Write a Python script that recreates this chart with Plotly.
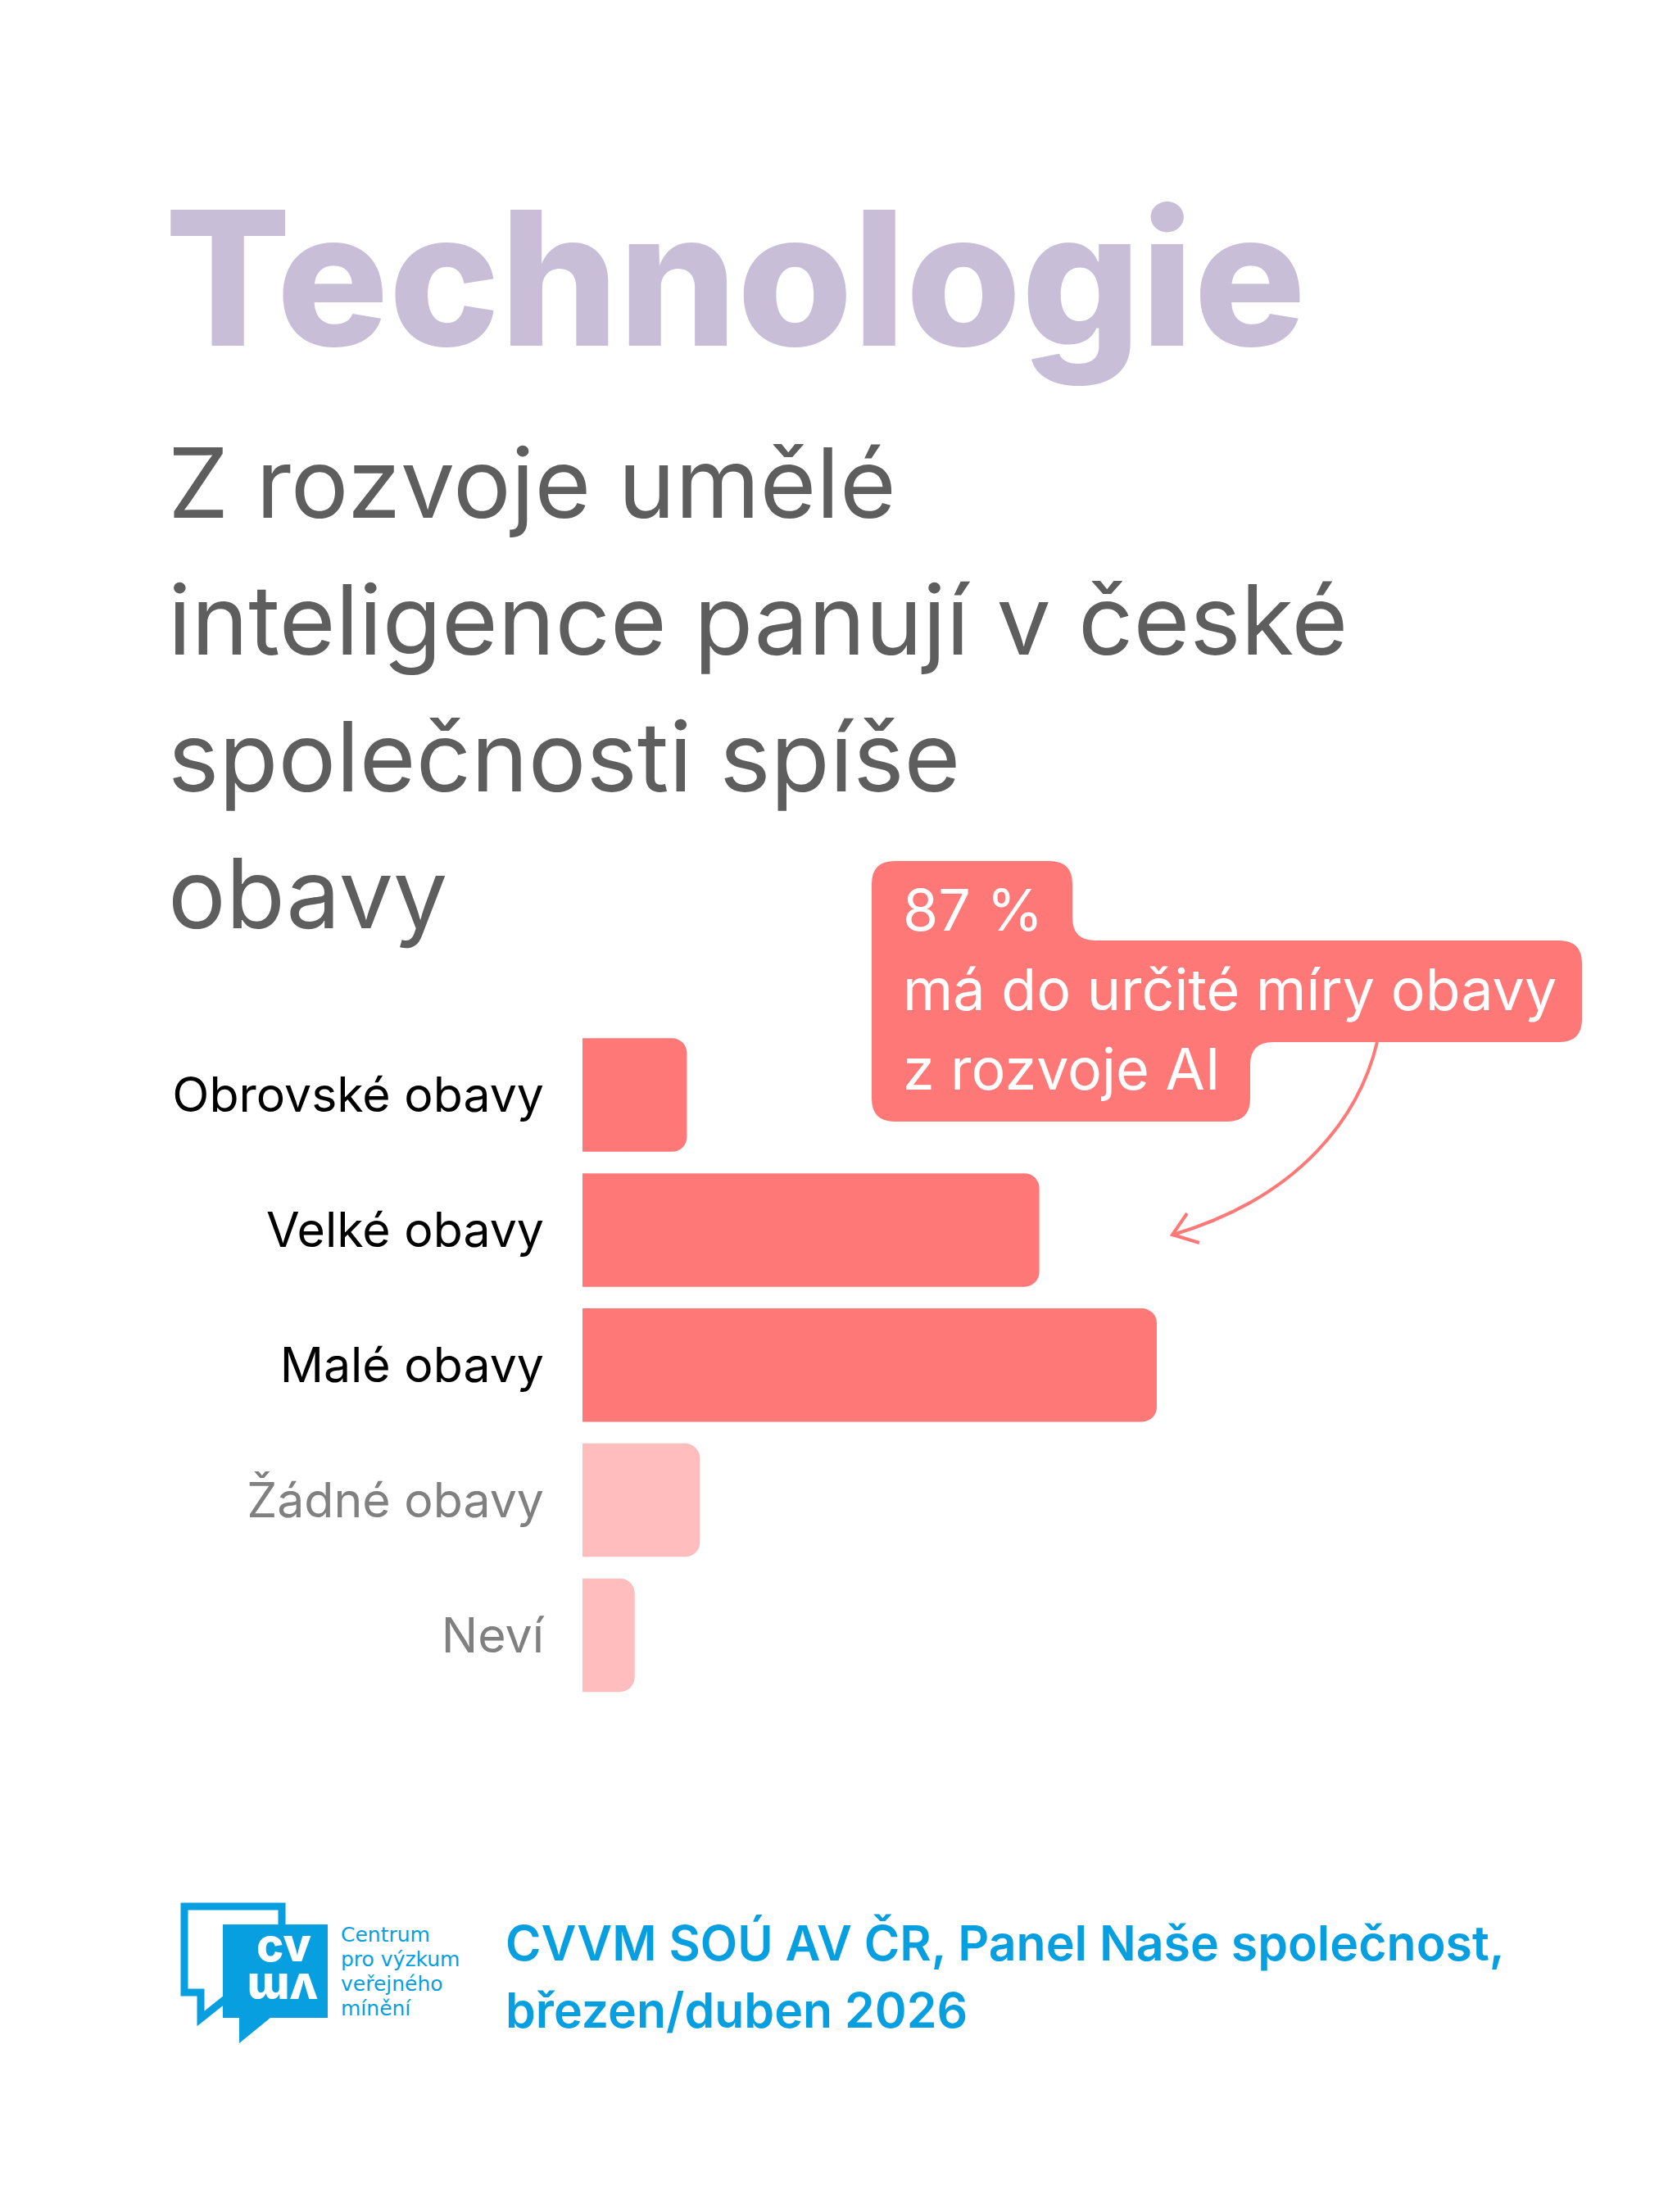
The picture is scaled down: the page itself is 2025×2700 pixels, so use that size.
import plotly.graph_objects as go

# ---------------- data ----------------
categories = ["Obrovské obavy", "Velké obavy", "Malé obavy", "Žádné obavy", "Neví"]
values = [8, 35, 44, 9, 4]
bar_colors = ["#FF7878", "#FF7878", "#FF7878", "#FFBDBD", "#FFBDBD"]
label_colors = ["#000000", "#000000", "#000000", "#808080", "#808080"]

title_text = "Technologie"
subtitle_lines = ["Z rozvoje umělé", "inteligence panují v české", "společnosti spíše", "obavy"]
callout_lines = ["87 %", "má do určité míry obavy", "z rozvoje AI"]
source_lines = ["CVVM SOÚ AV ČR, Panel Naše společnost,", "březen/duben 2026"]
logo_lines = ["Centrum", "pro výzkum", "veřejného", "mínění"]

W, H = 2025, 2700
OFF = 8  # page body margin offset
FONT = "Inter"
BLUE = "#079FE0"
RED = "#FF7878"


def px(x):
    return (x - OFF) / W


def py(y):
    return 1 - (y - OFF) / H


def P(x, y):
    return f"{px(x):.5f},{py(y):.5f}"


fig = go.Figure()

ticktext = [f'<span style="color:{c}">{t}</span>' for t, c in zip(categories, label_colors)]

fig.add_trace(go.Bar(
    y=categories,
    x=values,
    orientation="h",
    marker=dict(color=bar_colors, line=dict(width=0)),
    hoverinfo="skip",
))

annotations = []


def add_text(text, x, baseline, size, color, weight=400, anchor="left", family=FONT, desc=0.2415):
    annotations.append(dict(
        text=text, xref="paper", yref="paper",
        x=px(x), y=py(baseline + desc * size),
        xanchor=anchor, yanchor="bottom", showarrow=False,
        borderpad=0,
        font=dict(family=family, size=size, color=color, weight=weight),
    ))


# Title
add_text(title_text, 200, 423, 228, "#C9BED8", weight=800)
# Subtitle
for i, line in enumerate(subtitle_lines):
    add_text(line, 204, 633 + i * 167, 118, "#5E5E5E")
# Callout texts
for i, line in enumerate(callout_lines):
    add_text(line, 1101, 1137 + i * 97, 70, "#FFFFFF")
# Source
for i, line in enumerate(source_lines):
    add_text(line, 616, 2394 + i * 82, 59, BLUE, weight=600)
# logo small text
for i, line in enumerate(logo_lines):
    add_text(line, 415, 2371 + i * 30, 25, BLUE, family="DejaVu Sans", desc=0.236)

# logo letters
LS = 56
annotations.append(dict(text="cv", xref="paper", yref="paper", x=px(346), y=py(2395 + 0.2415 * LS),
                        xanchor="center", yanchor="bottom", showarrow=False, borderpad=0,
                        font=dict(family=FONT, size=LS, color="#FFFFFF", weight=800)))
annotations.append(dict(text="vm", xref="paper", yref="paper", x=px(345), y=py(2429),
                        xanchor="center", yanchor="middle", showarrow=False, borderpad=0,
                        textangle=180,
                        font=dict(family=FONT, size=LS, color="#FFFFFF", weight=800)))

# ---- callout box shape ----
L, T1, R1, T2, R2, B2, R3, B3, r = 1064, 1051, 1309, 1148, 1931, 1272, 1526, 1369, 28
path = (
    f"M{P(L, T1 + r)} Q{P(L, T1)} {P(L + r, T1)} "
    f"L{P(R1 - r, T1)} Q{P(R1, T1)} {P(R1, T1 + r)} "
    f"L{P(R1, T2 - r)} Q{P(R1, T2)} {P(R1 + r, T2)} "
    f"L{P(R2 - r, T2)} Q{P(R2, T2)} {P(R2, T2 + r)} "
    f"L{P(R2, B2 - r)} Q{P(R2, B2)} {P(R2 - r, B2)} "
    f"L{P(R3 + r, B2)} Q{P(R3, B2)} {P(R3, B2 + r)} "
    f"L{P(R3, B3 - r)} Q{P(R3, B3)} {P(R3 - r, B3)} "
    f"L{P(L + r, B3)} Q{P(L, B3)} {P(L, B3 - r)} Z"
)
shapes = [
    dict(type="path", xref="paper", yref="paper", path=path,
         fillcolor=RED, line=dict(width=0), layer="below"),
    # arrow curve
    dict(type="path", xref="paper", yref="paper",
         path=f"M{P(1681, 1272)} C{P(1660, 1360)} {P(1590, 1460)} {P(1432, 1507)}",
         line=dict(color=RED, width=4), fillcolor="rgba(0,0,0,0)"),
    # arrow head
    dict(type="path", xref="paper", yref="paper",
         path=f"M{P(1449, 1481)} L{P(1431, 1507)} L{P(1464, 1517)}",
         line=dict(color=RED, width=4), fillcolor="rgba(0,0,0,0)"),
    # logo outline bubble
    dict(type="path", xref="paper", yref="paper",
         path=(f"M{P(280, 2436)} L{P(245, 2464)} L{P(245, 2432)} L{P(225, 2432)} "
               f"L{P(225, 2327)} L{P(344, 2327)} L{P(344, 2355)}"),
         line=dict(color=BLUE, width=9), fillcolor="rgba(0,0,0,0)"),
    # logo filled bubble
    dict(type="path", xref="paper", yref="paper",
         path=(f"M{P(272, 2349)} L{P(400, 2349)} L{P(400, 2463)} L{P(330, 2463)} "
               f"L{P(292, 2494)} L{P(292, 2463)} L{P(272, 2463)} Z"),
         line=dict(width=0), fillcolor=BLUE),
]

px_per_unit = 1386 / 87
x_max = 80
bar_left = 711
fig.update_layout(
    width=W, height=H,
    margin=dict(l=0, r=0, t=0, b=0),
    paper_bgcolor="#FFFFFF", plot_bgcolor="#FFFFFF",
    showlegend=False,
    bargap=0.16,
    barcornerradius=18,
    font=dict(family=FONT),
    xaxis=dict(range=[0, x_max], domain=[px(bar_left), px(bar_left + x_max * px_per_unit)],
               visible=False, fixedrange=True),
    yaxis=dict(domain=[py(2078.4), py(1254.1)], autorange="reversed",
               tickmode="array", tickvals=categories, ticktext=ticktext,
               tickfont=dict(family=FONT, size=59, color="#000000"),
               showgrid=False, zeroline=False, showline=False, ticks="",
               ticklabelstandoff=46, fixedrange=True),
    annotations=annotations,
    shapes=shapes,
)

fig.write_html("out.html")
